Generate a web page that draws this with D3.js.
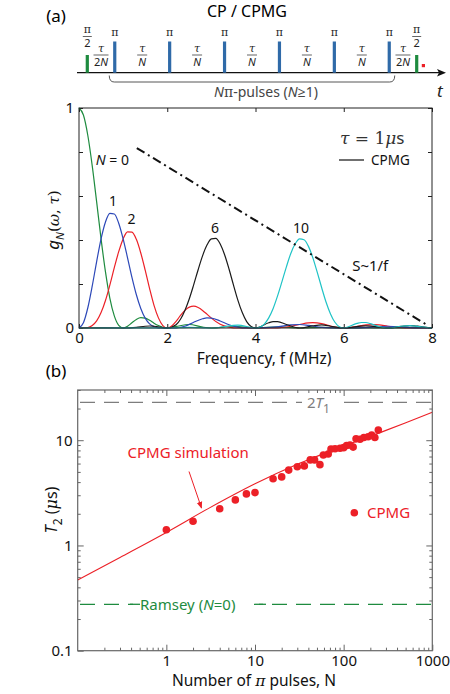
<html>
<head>
<meta charset="utf-8">
<title>CPMG filter functions and T2</title>
<style>
  body { margin: 0; background: #fff; }
  text { font-family: "Noto Sans", "Open Sans", sans-serif; }
  .serif { font-family: "DejaVu Serif", "Liberation Serif", serif; }
</style>
</head>
<body>
<svg id="chart" width="450" height="694"></svg>
<script src="https://d3js.org/d3.v7.min.js"></script>
<script>
// ---- panel (a): filter functions g_N(w,tau), pairs [f (MHz), g] ----
let gN0 = [[0,1],[0.1,0.968],[0.2,0.875],[0.3,0.737],[0.4,0.573],[0.5,0.405],[0.6,0.255],[0.7,0.135],
  [0.8,0.055],[0.9,0.012],[1,0],[1.1,0.008],[1.2,0.024],[1.3,0.039],[1.4,0.047],[1.5,0.045],[1.6,0.035],
  [1.7,0.022],[1.8,0.011],[1.9,0.003],[2,0],[2.2,0.007],[2.5,0.016],[2.8,0.004],[3,0],[3.5,0.008],[4,0],
  [4.5,0.005],[5,0],[5.5,0.003],[6,0],[6.5,0.002],[7,0],[7.5,0.002],[8,0]]
let gN1 = [[0,0],[0.1,0.024],[0.2,0.092],[0.3,0.191],[0.4,0.302],[0.5,0.405],[0.6,0.482],[0.7,0.521],
  [0.8,0.518],[0.9,0.476],[1,0.405],[1.1,0.319],[1.2,0.230],[1.3,0.151],[1.4,0.089],[1.5,0.045],[1.6,0.019],
  [1.7,0.006],[1.8,0.001],[2,0],[2.2,0.001],[2.4,0.008],[2.6,0.026],[2.8,0.042],[2.9,0.046],[3,0.045],
  [3.2,0.032],[3.4,0.015],[3.6,0.004],[3.8,0],[4,0],[4.5,0.005],[4.8,0.014],[5,0.016],[5.2,0.012],
  [5.5,0.003],[6,0],[6.5,0.002],[7,0.008],[7.5,0.002],[8,0]]
let gN2 = [[0,0],[0.2,0.002],[0.3,0.011],[0.4,0.032],[0.5,0.070],[0.6,0.125],[0.7,0.196],[0.8,0.274],
  [0.9,0.347],[1,0.405],[1.1,0.437],[1.2,0.436],[1.3,0.403],[1.4,0.341],[1.5,0.263],[1.6,0.179],
  [1.7,0.103],[1.8,0.046],[1.9,0.011],[2,0],[2.1,0.009],[2.2,0.030],[2.3,0.057],[2.4,0.080],[2.5,0.095],
  [2.6,0.099],[2.7,0.093],[2.8,0.080],[2.9,0.063],[3,0.045],[3.2,0.017],[3.4,0.004],[3.6,0],[4,0],
  [4.5,0.001],[4.8,0.008],[5,0.016],[5.2,0.023],[5.3,0.024],[5.5,0.020],[5.7,0.009],[5.8,0.004],[6,0],
  [6.2,0.004],[6.4,0.011],[6.5,0.014],[6.7,0.015],[6.8,0.014],[7,0.008],[7.5,0],[8,0]]
let gN6 = [[0,0],[0.5,0.001],[1,0],[1.3,0.003],[1.5,0.008],[1.6,0.009],[1.7,0.008],[2,0],[2.2,0.015],
  [2.3,0.040],[2.4,0.080],[2.5,0.133],[2.6,0.197],[2.7,0.265],[2.8,0.328],[2.9,0.377],[3,0.405],
  [3.1,0.407],[3.2,0.382],[3.3,0.333],[3.4,0.268],[3.5,0.196],[3.6,0.127],[3.7,0.070],[3.8,0.029],
  [3.9,0.007],[4,0],[4.3,0.024],[4.4,0.029],[4.5,0.029],[4.7,0.016],[5,0],[5.3,0.010],[5.5,0.014],
  [5.7,0.008],[6,0],[6.5,0.010],[7,0],[7.3,0.007],[7.5,0.011],[7.6,0.010],[7.7,0.008],[8,0]]
let gN10 = [[0,0],[1.5,0.001],[2,0],[2.5,0.003],[3,0],[3.3,0.006],[3.5,0.012],[3.6,0.013],[3.7,0.011],
  [4,0],[4.1,0.004],[4.2,0.018],[4.3,0.046],[4.4,0.089],[4.5,0.146],[4.6,0.211],[4.7,0.278],[4.8,0.339],
  [4.9,0.383],[5,0.405],[5.1,0.401],[5.2,0.371],[5.3,0.319],[5.4,0.253],[5.5,0.183],[5.6,0.117],
  [5.7,0.064],[5.8,0.026],[5.9,0.006],[6,0],[6.3,0.021],[6.4,0.025],[6.5,0.025],[6.6,0.020],[6.7,0.013],
  [7,0],[7.3,0.008],[7.5,0.011],[7.7,0.006],[8,0]]
let noiseLine = [[1.31,0.818],[7.9,0.012]]
let curveLabels = [["1",0.77,0.577],["2",1.19,0.495],["6",3.08,0.456],["10",5.03,0.456]]

// ---- panel (b): T2 vs number of pi pulses ----
let cpmgN = [1,2,4,6,8,10,16,20,24,30,36,42,47,54,59,67,72,80,91,100,108,118,128,138,153,169,189,207,225,246]
let cpmgT = [1.41,1.70,2.23,2.71,3.09,3.18,4.3,4.48,5.2,5.6,5.7,6.5,6.5,5.86,7.24,7.4,8.25,8.3,8.4,8.5,
  8.9,9.0,8.6,10.3,10.2,10.6,10.8,11.2,10.6,12.5]
let simN = [0.1,0.3,1,3,10,30,100,300,1000]
let simT = [0.47,0.77,1.33,2.25,3.85,5.9,8.8,12.4,18.4]
let twoT1 = 22.9
let ramseyT2 = 0.276

// ---- pulse sequence (time in units of tau/N) ----
let piHalfTimes = [0, 6]
let piTimes = [0.5, 1.5, 2.5, 3.5, 4.5, 5.5]
let gapLabels = [[0.25,"2N"],[1,"N"],[2,"N"],[3,"N"],[4,"N"],[5,"N"],[5.75,"2N"]]

let svg = d3.select("#chart")
let green = "#1e8b3f", blue = "#2c48b8", red = "#ec2027", cyan = "#1fc3c6"
let pulseBlue = "#2f6aa8"

// ================= pulse sequence =================
let tx = d3.scaleLinear().domain([0, 1]).range([87.3, 142.2])
let seq = svg.append("g")
seq.append("text").attr("x", 56).attr("y", 22).attr("text-anchor", "middle")
  .style("font-size", "17px").text("(a)")
seq.append("text").attr("x", 247).attr("y", 17).attr("text-anchor", "middle")
  .style("font-size", "16px").text("CP / CPMG")
seq.append("line").attr("x1", 77).attr("x2", 440).attr("y1", 72.7).attr("y2", 72.7)
  .attr("stroke", "#111").attr("stroke-width", 1.3)
seq.append("path").attr("d", "M446,72.7 L437,69 L439,72.7 L437,76.4 Z").attr("fill", "#111")
seq.append("text").attr("x", 437).attr("y", 97).style("font-size", "17px")
  .style("font-style", "italic").attr("fill", "#222").text("t")

seq.selectAll(".half").data(piHalfTimes).enter().append("rect")
  .attr("x", d => tx(d) - 1.6).attr("y", 55).attr("width", 3.2).attr("height", 17.7)
  .attr("fill", green)
seq.selectAll(".pi").data(piTimes).enter().append("rect")
  .attr("x", d => tx(d) - 1.6).attr("y", 41.5).attr("width", 3.2).attr("height", 31.2)
  .attr("fill", pulseBlue)
seq.append("rect").attr("x", tx(6.12) - 1.5).attr("y", 64).attr("width", 3.2).attr("height", 3.2)
  .attr("fill", red)

let fracStyle = g => g.style("font-size", "11px").attr("fill", "#222").attr("text-anchor", "middle")
seq.selectAll(".pilab").data(piTimes).enter().append("text")
  .attr("x", d => tx(d)).attr("y", 36).attr("class", "serif").call(fracStyle).text("π")
piHalfTimes.forEach(t => {
  seq.append("text").attr("x", tx(t)).attr("y", 33).attr("class", "serif").call(fracStyle).text("π")
  seq.append("line").attr("x1", tx(t) - 4.5).attr("x2", tx(t) + 4.5).attr("y1", 36.5).attr("y2", 36.5)
    .attr("stroke", "#222").attr("stroke-width", 0.7)
  seq.append("text").attr("x", tx(t)).attr("y", 46.5).call(fracStyle).text("2")
})
gapLabels.forEach(([t, den]) => {
  seq.append("text").attr("x", tx(t)).attr("y", 52).attr("class", "serif").call(fracStyle)
    .style("font-style", "italic").text("τ")
  let w = den == "2N" ? 7.5 : 5
  seq.append("line").attr("x1", tx(t) - w).attr("x2", tx(t) + w).attr("y1", 55).attr("y2", 55)
    .attr("stroke", "#222").attr("stroke-width", 0.7)
  let lab = seq.append("text").attr("x", tx(t)).attr("y", 66).call(fracStyle)
  if (den == "2N") { lab.append("tspan").text("2"); lab.append("tspan").style("font-style", "italic").text("N") }
  else lab.style("font-style", "italic").text("N")
})
// bracket under the pi pulses
let bx0 = tx(0.4), bx1 = tx(5.6)
seq.append("path")
  .attr("d", `M${bx0},75.5 Q${bx0},82 ${bx0 + 5},82 L${bx1 - 5},82 Q${bx1},82 ${bx1},75.5`)
  .attr("fill", "none").attr("stroke", "#444").attr("stroke-width", 0.9)
let br = seq.append("text").attr("x", 266).attr("y", 97).attr("text-anchor", "middle")
  .style("font-size", "14px").attr("fill", "#444")
br.append("tspan").style("font-style", "italic").text("N")
br.append("tspan").attr("class", "serif").text("π")
br.append("tspan").text("-pulses  (")
br.append("tspan").style("font-style", "italic").text("N")
br.append("tspan").text("≥1)")

// ================= panel (a) plot =================
let xA = d3.scaleLinear().domain([0, 8]).range([79, 432])
let yA = d3.scaleLinear().domain([0, 1]).range([328, 108])
let pa = svg.append("g")

pa.append("g").attr("transform", "translate(0,328)")
  .call(d3.axisBottom(xA).tickValues([0, 2, 4, 6, 8]).tickSize(-4).tickPadding(4).tickFormat(d3.format("d")))
pa.append("g").attr("transform", "translate(0,108)")
  .call(d3.axisTop(xA).tickValues([0, 2, 4, 6, 8]).tickSize(-4).tickFormat(""))
pa.append("g").attr("transform", "translate(79,0)")
  .call(d3.axisLeft(yA).tickValues([0, 0.2, 0.4, 0.6, 0.8, 1]).tickSize(-4).tickPadding(5)
    .tickFormat(d => (d == 0 || d == 1) ? d3.format("d")(d) : ""))
pa.append("g").attr("transform", "translate(432,0)")
  .call(d3.axisRight(yA).tickValues([0, 0.2, 0.4, 0.6, 0.8, 1]).tickSize(-4).tickFormat(""))
pa.selectAll(".domain").remove()
pa.selectAll(".tick text").style("font-size", "15px").attr("fill", "#111")
pa.selectAll(".tick line").attr("stroke", "#222")

let lineA = d3.line().x(d => xA(d[0])).y(d => yA(d[1])).curve(d3.curveMonotoneX)
let series = [[gN0, green], [gN2, red], [gN1, blue], [gN6, "#1a1a1a"], [gN10, cyan]]
series.forEach(([data, col]) => {
  pa.append("path").datum(data).attr("d", lineA).attr("fill", "none")
    .attr("stroke", col).attr("stroke-width", 1.2)
})
pa.append("path").datum(noiseLine).attr("d", d3.line().x(d => xA(d[0])).y(d => yA(d[1])))
  .attr("stroke", "#111").attr("stroke-width", 2).attr("stroke-dasharray", "9,4,2,4").attr("fill", "none")
pa.append("rect").attr("x", 79).attr("y", 108).attr("width", 353).attr("height", 220)
  .attr("fill", "none").attr("stroke", "#222").attr("stroke-width", 1)

pa.selectAll(".clab").data(curveLabels).enter().append("text")
  .attr("x", d => xA(d[1])).attr("y", d => yA(d[2]) + 5).attr("text-anchor", "middle")
  .style("font-size", "14px").attr("fill", "#111").text(d => d[0])
let n0 = pa.append("text").attr("x", xA(0.38)).attr("y", yA(0.764) + 5).style("font-size", "14px").attr("fill", "#111")
n0.append("tspan").style("font-style", "italic").text("N")
n0.append("tspan").text(" = 0")
pa.append("text").attr("x", xA(6.6)).attr("y", yA(0.28) + 5).attr("text-anchor", "middle")
  .style("font-size", "15px").attr("fill", "#111").text("S~1/f")
let tau = pa.append("text").attr("x", 340).attr("y", 144).style("font-size", "17px").attr("fill", "#333")
tau.append("tspan").attr("class", "serif").style("font-style", "italic").text("τ")
tau.append("tspan").attr("class", "serif").text(" = 1")
tau.append("tspan").attr("class", "serif").style("font-style", "italic").text("μ")
tau.append("tspan").text("s")
pa.append("line").attr("x1", 339).attr("x2", 364).attr("y1", 160).attr("y2", 160)
  .attr("stroke", "#222").attr("stroke-width", 1.3)
pa.append("text").attr("x", 371).attr("y", 165).style("font-size", "13.5px").attr("fill", "#111").text("CPMG")

let gl = pa.append("text").attr("transform", "translate(59,220) rotate(-90)").attr("text-anchor", "middle")
  .style("font-size", "17px").attr("fill", "#111")
gl.append("tspan").style("font-style", "italic").text("g")
gl.append("tspan").attr("dy", 5).style("font-size", "11px").style("font-style", "italic").text("N")
gl.append("tspan").attr("dy", -5).attr("class", "serif").style("font-size", "15px").text("(")
gl.append("tspan").attr("class", "serif").style("font-size", "15px").style("font-style", "italic").text("ω")
gl.append("tspan").attr("class", "serif").style("font-size", "15px").text(", ")
gl.append("tspan").attr("class", "serif").style("font-size", "15px").style("font-style", "italic").text("τ")
gl.append("tspan").attr("class", "serif").style("font-size", "15px").text(")")
pa.append("text").attr("x", 264).attr("y", 364).attr("text-anchor", "middle")
  .style("font-size", "15.5px").attr("fill", "#111").text("Frequency,  f (MHz)")

// ================= panel (b) plot =================
let xB = d3.scaleLog().domain([0.1, 1000]).range([77.7, 432.3])
let yB = d3.scaleLog().domain([0.1, 30]).range([650.7, 390])
let pb = svg.append("g")
svg.append("text").attr("x", 56).attr("y", 377).attr("text-anchor", "middle")
  .style("font-size", "17px").text("(b)")

let minorX = [], minorY = []
;[0.1, 1, 10, 100].forEach(d => { for (let k = 2; k <= 9; k++) minorX.push(d * k) })
;[0.1, 1, 10].forEach(d => { for (let k = 2; k <= 9; k++) if (d * k <= 30) minorY.push(d * k) })
let frameCol = "#666"
function logAxis(axis, ticks, size, fmt) {
  return axis.tickValues(ticks).tickSize(size).tickPadding(5).tickFormat(fmt)
}
pb.append("g").attr("transform", "translate(0,650.7)").call(logAxis(d3.axisBottom(xB), [1, 10, 100, 1000], -6, d3.format("d")))
pb.append("g").attr("transform", "translate(0,650.7)").call(logAxis(d3.axisBottom(xB), minorX, -3, ""))
pb.append("g").attr("transform", "translate(0,390)").call(logAxis(d3.axisTop(xB), [1, 10, 100], -6, ""))
pb.append("g").attr("transform", "translate(0,390)").call(logAxis(d3.axisTop(xB), minorX, -3, ""))
pb.append("g").attr("transform", "translate(77.7,0)").call(logAxis(d3.axisLeft(yB), [0.1, 1, 10], -6, d => d < 1 ? "0.1" : d3.format("d")(d)))
pb.append("g").attr("transform", "translate(77.7,0)").call(logAxis(d3.axisLeft(yB), minorY, -3, ""))
pb.append("g").attr("transform", "translate(432.3,0)").call(logAxis(d3.axisRight(yB), [1, 10], -6, ""))
pb.append("g").attr("transform", "translate(432.3,0)").call(logAxis(d3.axisRight(yB), minorY, -3, ""))
pb.selectAll(".domain").remove()
pb.selectAll(".tick line").attr("stroke", frameCol)
pb.selectAll(".tick text").style("font-size", "15px").attr("fill", "#111")

// reference lines
pb.append("line").attr("x1", 80).attr("x2", 432).attr("y1", yB(twoT1)).attr("y2", yB(twoT1))
  .attr("stroke", "#7d7d7d").attr("stroke-width", 1.3).attr("stroke-dasharray", "15,9")
pb.append("rect").attr("x", 302).attr("y", yB(twoT1) - 8).attr("width", 38).attr("height", 18).attr("fill", "#fff")
let t1 = pb.append("text").attr("x", 307).attr("y", yB(twoT1) + 6).style("font-size", "15px").attr("fill", "#7d7d7d")
t1.append("tspan").text("2")
t1.append("tspan").style("font-style", "italic").text("T")
t1.append("tspan").attr("dy", 5).style("font-size", "12px").text("1")

pb.append("line").attr("x1", 80).attr("x2", 432).attr("y1", yB(ramseyT2)).attr("y2", yB(ramseyT2))
  .attr("stroke", green).attr("stroke-width", 1.3).attr("stroke-dasharray", "15,9")
pb.append("rect").attr("x", 133).attr("y", yB(ramseyT2) - 9).attr("width", 126).attr("height", 18).attr("fill", "#fff")
pb.append("line").attr("x1", 130).attr("x2", 140).attr("y1", yB(ramseyT2)).attr("y2", yB(ramseyT2)).attr("stroke", green).attr("stroke-width", 1.3)
pb.append("line").attr("x1", 254).attr("x2", 266).attr("y1", yB(ramseyT2)).attr("y2", yB(ramseyT2)).attr("stroke", green).attr("stroke-width", 1.3)
let rl = pb.append("text").attr("x", 140).attr("y", yB(ramseyT2) + 5.5).style("font-size", "15px").attr("fill", green)
rl.append("tspan").text("Ramsey  (")
rl.append("tspan").style("font-style", "italic").text("N")
rl.append("tspan").text("=0)")

// simulation curve and data
let simData = simN.map((n, i) => [n, simT[i]])
pb.append("path").datum(simData)
  .attr("d", d3.line().x(d => xB(d[0])).y(d => yB(d[1])).curve(d3.curveCatmullRom.alpha(0.5)))
  .attr("fill", "none").attr("stroke", red).attr("stroke-width", 1.1)
pb.selectAll(".dot").data(cpmgN.map((n, i) => [n, cpmgT[i]])).enter().append("circle")
  .attr("cx", d => xB(d[0])).attr("cy", d => yB(d[1])).attr("r", 3.8).attr("fill", red)

pb.append("rect").attr("x", 77.7).attr("y", 390).attr("width", 354.6).attr("height", 260.7)
  .attr("fill", "none").attr("stroke", frameCol).attr("stroke-width", 1.2)

pb.append("text").attr("x", 127.5).attr("y", 458).style("font-size", "15px").attr("fill", red).text("CPMG simulation")
svg.append("defs").append("marker").attr("id", "arr").attr("viewBox", "0 0 10 10").attr("refX", 9).attr("refY", 5)
  .attr("markerWidth", 7).attr("markerHeight", 7).attr("orient", "auto")
  .append("path").attr("d", "M0,1 L10,5 L0,9 Z").attr("fill", red)
pb.append("line").attr("x1", 189).attr("y1", 471.5).attr("x2", 201.5).attr("y2", 508)
  .attr("stroke", red).attr("stroke-width", 1).attr("marker-end", "url(#arr)")
pb.append("circle").attr("cx", 354.3).attr("cy", 512.7).attr("r", 3.8).attr("fill", red)
pb.append("text").attr("x", 367).attr("y", 518).style("font-size", "15px").attr("fill", red).text("CPMG")

let yl = pb.append("text").attr("transform", "translate(57,510) rotate(-90)").attr("text-anchor", "middle")
  .style("font-size", "16px").attr("fill", "#111")
yl.append("tspan").style("font-style", "italic").text("T")
yl.append("tspan").attr("dy", 5).style("font-size", "12px").text("2")
yl.append("tspan").attr("dy", -5).text("  (")
yl.append("tspan").attr("class", "serif").style("font-style", "italic").text("μ")
yl.append("tspan").text("s)")
let xl = pb.append("text").attr("x", 254).attr("y", 686).attr("text-anchor", "middle")
  .style("font-size", "15.5px").attr("fill", "#111")
xl.append("tspan").text("Number of ")
xl.append("tspan").attr("class", "serif").style("font-style", "italic").text("π")
xl.append("tspan").text(" pulses,  N")
</script>
</body>
</html>
